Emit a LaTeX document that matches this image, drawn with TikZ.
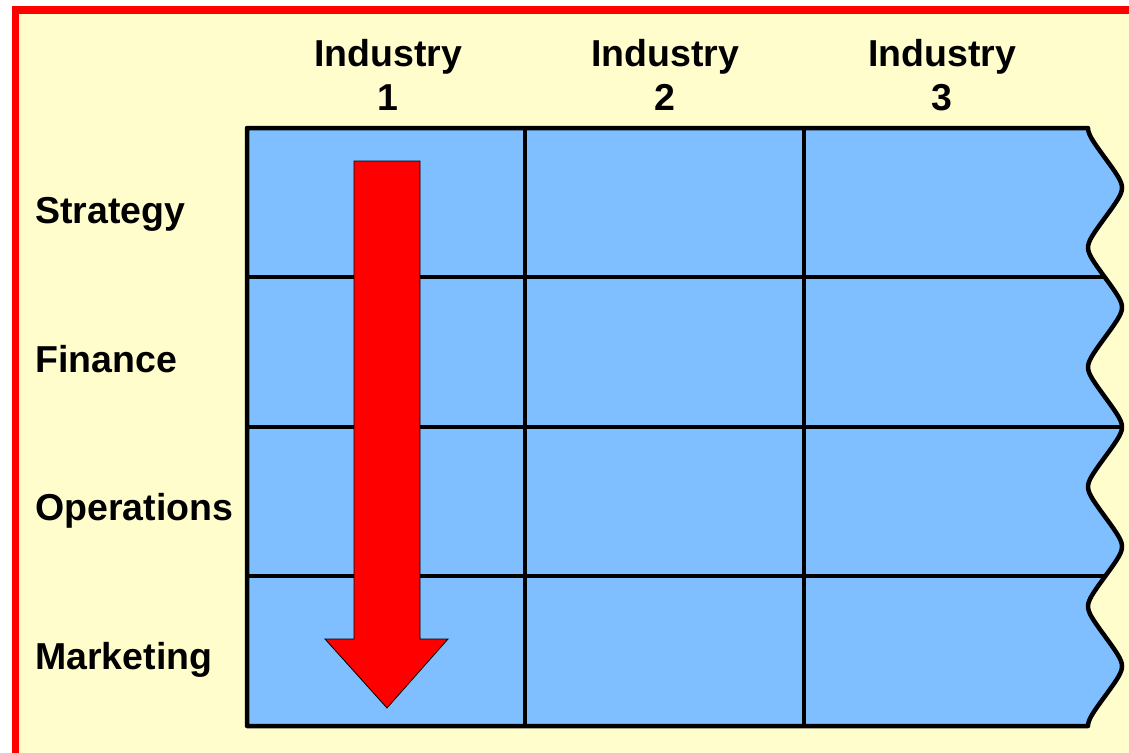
\documentclass[tikz,border=0pt]{standalone}
\usepackage{fontspec}
\setmainfont{Liberation Sans}
\definecolor{bgyellow}{HTML}{FFFDCC}
\definecolor{cellblue}{HTML}{80BFFF}
\definecolor{framered}{HTML}{FF0000}
\begin{document}
\begin{tikzpicture}[x=1pt,y=-1pt,
  lbl/.style={inner sep=0pt,font=\fontsize{37.5}{43.5}\bfseries\selectfont},
  gridline/.style={line width=4.5pt,black},
  arrowshape/.style={fill=framered,draw=black,line width=0.8pt,line join=miter}]
\useasboundingbox (0,0) rectangle (1129,752);
\clip (0,0) rectangle (1129,752);
% frame
\fill[white] (0,0) rectangle (1129,752);
\fill[bgyellow] (15.5,10) rectangle (1160,790);
\draw[framered,line width=7.5pt] (15.5,10) rectangle (1160,790);
% table body
\def\tablepath{(247,128) -- (1088,128) -- plot[domain=128:726,samples=240,variable=\t] ({1105-17*asin(0.88*cos(3.01003*(\t-128)))/61.64},\t) -- (247,726) -- cycle}
\fill[cellblue] \tablepath;
\begin{scope}
  \clip \tablepath;
  \foreach \yy in {277,427,576}{\draw[gridline] (247,\yy) -- (1140,\yy);}
  \foreach \xx in {525,804}{\draw[gridline] (\xx,128) -- (\xx,726);}
\end{scope}
\draw[gridline,line join=round] \tablepath;
% arrow
\draw[arrowshape] (354,161) -- (420,161) -- (420,639) -- (448,639) -- (387,708) -- (325,639) -- (354,639) -- cycle;
% headers
\node[lbl,anchor=base] (h1a) at (388,66.7) {Industry};
\node[lbl,anchor=base] (h1b) at (388,110) {1};
\node[lbl,anchor=base] (h2a) at (665,66.7) {Industry};
\node[lbl,anchor=base] (h2b) at (665,110) {2};
\node[lbl,anchor=base] (h3a) at (942,66.7) {Industry};
\node[lbl,anchor=base] (h3b) at (942,110) {3};
% row labels
\node[lbl,anchor=base west] (r1) at (35,223) {Strategy};
\node[lbl,anchor=base west] (r2) at (35,372) {Finance};
\node[lbl,anchor=base west] (r3) at (35,520) {Operations};
\node[lbl,anchor=base west] (r4) at (35,669) {Marketing};
\end{tikzpicture}
\end{document}
